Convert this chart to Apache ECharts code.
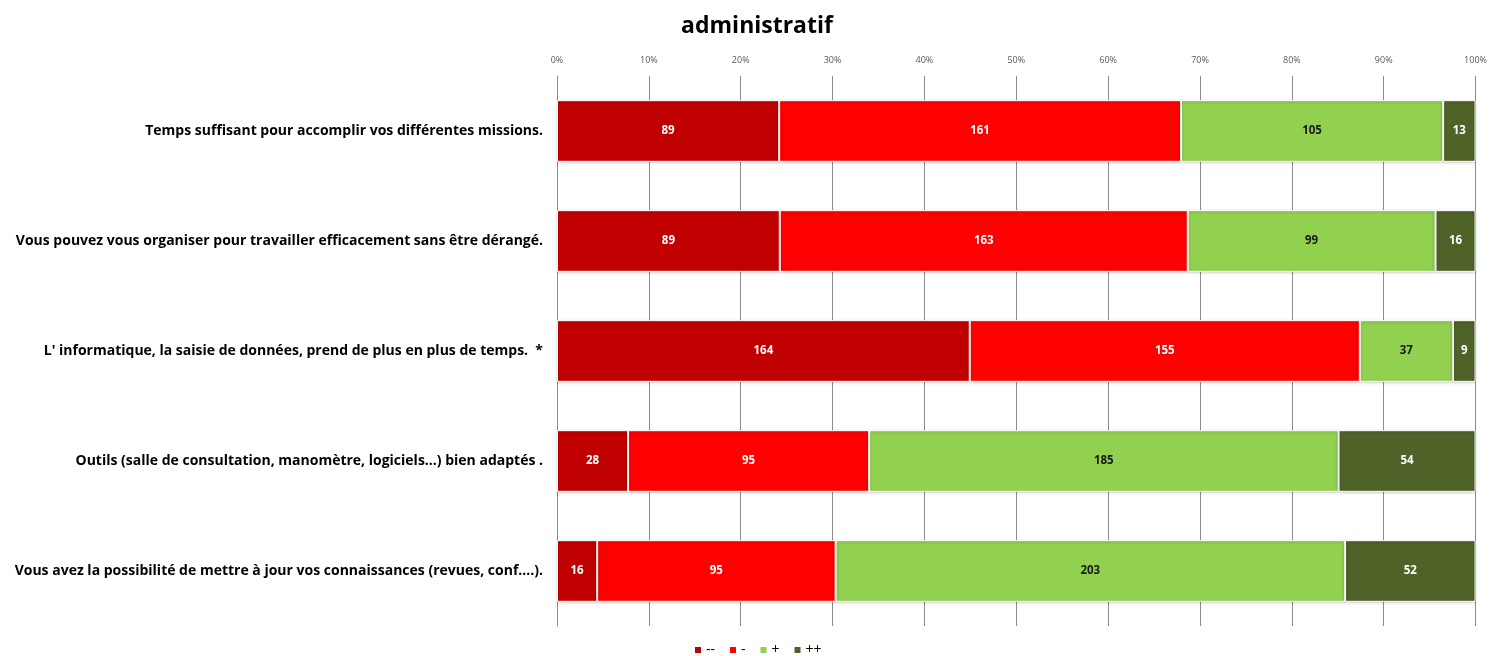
<!DOCTYPE html>
<html>
<head>
<meta charset="utf-8">
<script src="https://cdn.jsdelivr.net/npm/echarts@6/dist/echarts.min.js"></script>
<style>
  html, body { margin: 0; padding: 0; background: #fff; }
  #chart { width: 1490px; height: 656px; }
</style>
</head>
<body>
<div id="chart"></div>
<script>
// Questions (top to bottom)
const categories = [
  "Temps suffisant pour accomplir vos différentes missions.",
  "Vous pouvez vous organiser pour travailler efficacement sans être dérangé.",
  "L' informatique, la saisie de données, prend de plus en plus de temps.  *",
  "Outils (salle de consultation, manomètre, logiciels...) bien adaptés .",
  "Vous avez la possibilité de mettre à jour vos connaissances (revues, conf….)."
];
// Answer counts per level
const veryNegative = [89, 89, 164, 28, 16];
const negative     = [161, 163, 155, 95, 95];
const positive     = [105, 99, 37, 185, 203];
const veryPositive = [13, 16, 9, 54, 52];
const seriesNames = ["--", "-", "+", "++"];
const colors = ["#c00000", "#ff0000", "#92d050", "#4f6228"];
const labelColors = ["#ffffff", "#ffffff", "#1a1a1a", "#ffffff"];

const counts = [veryNegative, negative, positive, veryPositive];
const totals = categories.map((_, i) => counts.reduce((s, arr) => s + arr[i], 0));

const chart = echarts.init(document.getElementById('chart'));
chart.setOption({
  animation: false,
  title: {
    text: 'administratif',
    left: 752, top: 10, textAlign: 'center',
    textStyle: { fontFamily: 'Open Sans', fontWeight: 'bold', fontSize: 23, color: '#000' }
  },
  legend: {
    bottom: -6, left: 688,
    itemWidth: 8, itemHeight: 8, itemGap: 13,
    icon: 'rect',
    textStyle: { fontFamily: 'Open Sans', fontSize: 14, color: '#000', padding: [0, 0, 0, -1] },
    data: seriesNames
  },
  grid: { left: 557, right: 14, top: 76, bottom: 30 },
  xAxis: {
    type: 'value', position: 'top', min: 0, max: 100, interval: 10,
    axisLabel: { formatter: '{value}%', fontFamily: 'Open Sans', fontSize: 9, color: '#595959', margin: 11 },
    axisLine: { show: false },
    axisTick: { show: false },
    splitLine: { show: true, lineStyle: { color: '#8c8c8c', width: 1 } }
  },
  yAxis: {
    type: 'category', inverse: true, data: categories,
    axisLine: { show: true, lineStyle: { color: '#8c8c8c' } },
    axisTick: { show: false },
    axisLabel: { fontFamily: 'Open Sans', fontWeight: 'bold', fontSize: 14, color: '#000', margin: 14 }
  },
  series: counts.map((arr, k) => ({
    name: seriesNames[k],
    type: 'bar',
    stack: 'total',
    barCategoryGap: '44%',
    itemStyle: { color: colors[k], borderColor: '#ffffff', borderWidth: 1,
      shadowColor: 'rgba(0,0,0,0.25)', shadowBlur: 3, shadowOffsetY: 1 },
    label: {
      show: true, position: 'inside',
      formatter: p => counts[k][p.dataIndex],
      color: labelColors[k], fontFamily: 'Open Sans', fontWeight: 'bold', fontSize: 11.5
    },
    data: arr.map((v, i) => v / totals[i] * 100)
  }))
});
</script>
</body>
</html>
